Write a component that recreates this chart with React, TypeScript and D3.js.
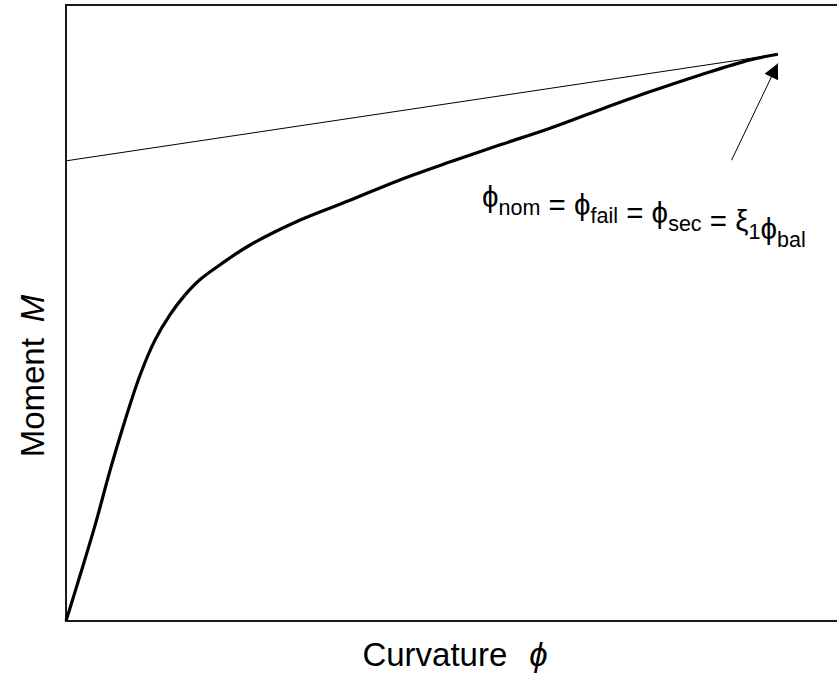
import React, { useRef, useEffect } from 'react';
import * as d3 from 'd3';

// moment-curvature curve (normalised units)
const curvature = [0, 0.02, 0.041, 0.062, 0.083, 0.104, 0.125, 0.146, 0.167, 0.188, 0.216, 0.258, 0.329, 0.399, 0.469, 0.539, 0.61, 0.68, 0.75, 0.82, 0.89, 0.961, 1.0];
const moment = [0, 0.075, 0.156, 0.245, 0.326, 0.399, 0.456, 0.497, 0.529, 0.554, 0.578, 0.61, 0.651, 0.683, 0.716, 0.745, 0.773, 0.8, 0.83, 0.859, 0.886, 0.911, 0.92];

// secant line through the failure point
const secantPhi = [0, 1.0];
const secantM = [0.747, 0.92];

// arrow pointing to the failure point
const arrowPhi = [0.935, 1.0];
const arrowM = [0.748, 0.905];

const W = 837;
const H = 679;

const App = () => {
  const svgRef = useRef(null);

  useEffect(() => {
    const svg = d3.select(svgRef.current);
    svg.selectAll('*').remove();

    const margin = { top: 5, right: -12, bottom: 58, left: 66 };
    const x = d3.scaleLinear().domain([0, 1.1]).range([margin.left, W - margin.right]);
    const y = d3.scaleLinear().domain([0, 1]).range([H - margin.bottom, margin.top]);

    svg.append('defs').append('marker')
      .attr('id', 'arrowhead')
      .attr('viewBox', '0 0 10 10')
      .attr('refX', 10)
      .attr('refY', 5)
      .attr('markerWidth', 20)
      .attr('markerHeight', 15)
      .attr('markerUnits', 'userSpaceOnUse')
      .attr('orient', 'auto')
      .append('path')
      .attr('d', 'M0,0L10,5L0,10Z')
      .attr('fill', '#000');

    // frame: left, top and bottom (right edge runs off the page)
    const x0 = x.range()[0];
    const y0 = y.range()[0];
    const y1 = y.range()[1];
    svg.append('path')
      .attr('d', `M${W + 5},${y1}H${x0}V${y0}H${W + 5}`)
      .attr('fill', 'none')
      .attr('stroke', '#1a1a1a')
      .attr('stroke-width', 2);

    // secant line
    svg.append('line')
      .attr('x1', x(secantPhi[0])).attr('y1', y(secantM[0]))
      .attr('x2', x(secantPhi[1])).attr('y2', y(secantM[1]))
      .attr('stroke', '#000')
      .attr('stroke-width', 1);

    // main curve
    const pts = curvature.map((c, i) => [c, moment[i]]);
    const line = d3.line()
      .x(d => x(d[0]))
      .y(d => y(d[1]))
      .curve(d3.curveCatmullRom.alpha(0.5));
    svg.append('path')
      .datum(pts)
      .attr('d', line)
      .attr('fill', 'none')
      .attr('stroke', '#000')
      .attr('stroke-width', 3.2)
      .attr('stroke-linejoin', 'round');

    // arrow
    svg.append('line')
      .attr('x1', x(arrowPhi[0])).attr('y1', y(arrowM[0]))
      .attr('x2', x(arrowPhi[1])).attr('y2', y(arrowM[1]))
      .attr('stroke', '#000')
      .attr('stroke-width', 1)
      .attr('marker-end', 'url(#arrowhead)');

    // annotation
    const font = '"Liberation Sans", Arial, sans-serif';
    const ann = svg.append('text')
      .attr('x', 482)
      .attr('y', 207)
      .attr('font-family', font)
      .attr('font-size', 29.5)
      .attr('fill', '#000');
    const parts = [
      ['ϕ', 'nom'], [' = ϕ', 'fail'], [' = ϕ', 'sec'], [' = ξ', '1'], ['ϕ', 'bal'],
    ];
    parts.forEach(([main, sub]) => {
      ann.append('tspan').attr('font-size', 29.5).text(main);
      ann.append('tspan').attr('font-size', 21.5).attr('dy', 8).text(sub);
      ann.append('tspan').attr('font-size', 29.5).attr('dy', -8).text('');
    });

    // axis titles
    const xt = svg.append('text')
      .attr('x', 455)
      .attr('y', 666)
      .attr('text-anchor', 'middle')
      .attr('font-family', font)
      .attr('font-size', 33)
      .attr('fill', '#000');
    xt.append('tspan').text('Curvature');
    xt.append('tspan').attr('dx', 22).attr('font-style', 'italic').text('ϕ');

    const yt = svg.append('text')
      .attr('transform', `translate(44,${(y0 + y1) / 2 + 63}) rotate(-90)`)
      .attr('text-anchor', 'middle')
      .attr('font-family', font)
      .attr('font-size', 33)
      .attr('fill', '#000');
    yt.append('tspan').text('Moment');
    yt.append('tspan').attr('dx', 16).attr('font-style', 'italic').text('M');
  }, []);

  return (
    <div style={{ position: 'absolute', left: 0, top: 0, width: W, height: H, background: '#fff' }}>
      <svg ref={svgRef} width={W} height={H} style={{ display: 'block' }}></svg>
    </div>
  );
};

export default App;
